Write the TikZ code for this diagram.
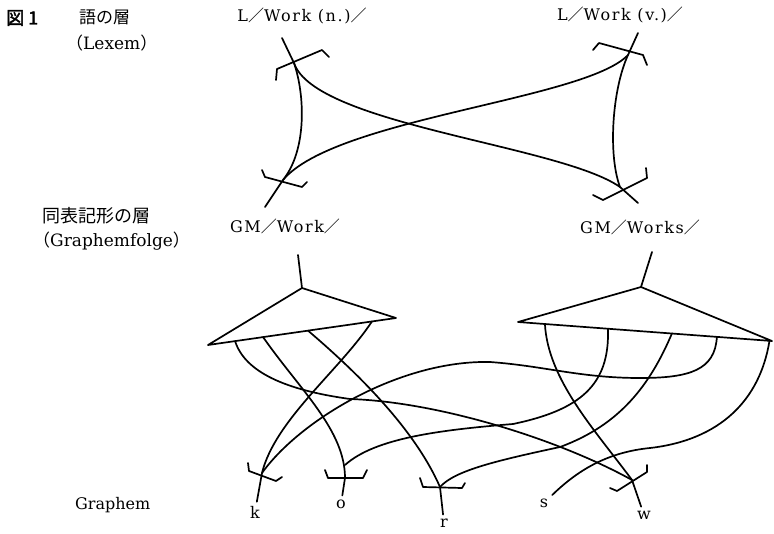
\documentclass[tikz,border=0pt]{standalone}
\usepackage{fontspec}
\setmainfont{DejaVu Serif}
\newfontfamily\unitfont{DejaVu Serif}[LetterSpace=10]
\newfontfamily\cjk{Noto Sans CJK JP}
\newfontfamily\cjkbold[FakeBold=2]{Noto Sans CJK JP}
\usepackage{tikz}
\usetikzlibrary{calc}

\begin{document}
\begin{tikzpicture}[
    x=1pt, y=-1pt,
    strand/.style={line width=1.7pt, line cap=round, line join=round},
    orbar/.style={strand},
    andnode/.style={strand},
    layer/.style={font=\fontsize{17}{20}\selectfont, anchor=west, inner sep=0pt},
    unit/.style={font=\unitfont\fontsize{16}{19}\selectfont, inner sep=1pt},
    grapheme/.style={font=\fontsize{16}{19}\selectfont, inner sep=4pt},
]
\useasboundingbox (0,0) rectangle (774,533);

% --- Layer names ---
\node[font=\cjkbold\fontsize{18}{20}\selectfont, anchor=west, inner sep=0pt] (fig) at (6,18) {図 1};
\node[layer] (lexname) at (79,17) {\cjk 語の層};
\node[layer] (lexname2) at (66,43) {{\cjk（}Lexem{\cjk）}};
\node[layer] (grname) at (42,216) {\cjk\fontsize{18}{20}\selectfont 同表記形の層};
\node[layer] (grname2) at (33,241) {{\cjk（}Graphemfolge{\cjk）}};
\node[layer, font=\fontsize{16}{19}\selectfont] (gphname) at (75,505) {Graphem};

% --- Lexemes and grapheme sequences ---
\node[unit] (lexN) at (302,16) {L{\cjk／}Work (n.){\cjk／}};
\node[unit] (lexV) at (620,15) {L{\cjk／}Work (v.){\cjk／}};
\node[unit] (gmW) at (285,226) {GM{\cjk／}Work{\cjk／}};
\node[unit] (gmWs) at (640,227) {GM{\cjk／}Works{\cjk／}};

% --- Graphemes ---
\node[grapheme] (k) at (255,512) {k};
\node[grapheme] (o) at (341,504) {o};
\node[grapheme] (r) at (444,523) {r};
\node[grapheme] (s) at (544,503) {s};
\node[grapheme] (w) at (644,515) {w};

% --- Junctions ---
\coordinate (lnfoot) at (282,38);
\coordinate (lvfoot) at (638,33);
\coordinate (TL) at (294,63);
\coordinate (TR) at (628,55);
\coordinate (BL) at (283,180);
\coordinate (BR) at (620,187);
\coordinate (gwtop) at (265,207);
\coordinate (gstop) at (638,203);
\coordinate (gwstem) at (298,255);
\coordinate (gsstem) at (652,252);
\coordinate (xk) at (262,473);
\coordinate (xo) at (345,478);
\coordinate (oj) at (345,465);
\coordinate (xr) at (440,487);
\coordinate (xw) at (632,480);

% --- AND nodes ---
\coordinate (gwA) at (302,288);
\coordinate (gwL) at (208,345);
\coordinate (gwR) at (396,318);
\coordinate (gsA) at (641,287);
\coordinate (gsL) at (518,322);
\coordinate (gsR) at (772,341);
\draw[andnode] (gwL) -- (gwA) -- (gwR) -- cycle;
\draw[andnode] (gsL) -- (gsA) -- (gsR) -- cycle;
\draw[strand] (gwstem) -- (gwA);
\draw[strand] (gsstem) -- (gsA);

\coordinate (w1) at ($(gwL)!0.144!(gwR)$);
\coordinate (o1) at ($(gwL)!0.293!(gwR)$);
\coordinate (r1) at ($(gwL)!0.532!(gwR)$);
\coordinate (k1) at ($(gwL)!0.872!(gwR)$);
\coordinate (w2) at ($(gsL)!0.106!(gsR)$);
\coordinate (o2) at ($(gsL)!0.354!(gsR)$);
\coordinate (r2) at ($(gsL)!0.606!(gsR)$);
\coordinate (k2) at ($(gsL)!0.783!(gsR)$);
\coordinate (s2) at ($(gsL)!0.99!(gsR)$);

% --- OR brackets ---
\draw[orbar] ([shift={(-18,17)}]TL) -- ++(1,-11) -- ++(45,-19) -- ++(7,7);
\draw[orbar] ([shift={(-35,-5)}]TR) -- ++(6,-7) -- ++(44,12) -- ++(4,10);
\draw[orbar] ([shift={(-21,-10)}]BL) -- ++(3,7) -- ++(37,10) -- ++(5,-5);
\draw[orbar] ([shift={(-27,8)}]BR) -- ++(10,5) -- ++(44,-22) -- ++(-1,-10);
\draw[orbar] ([shift={(-14,-10)}]xk) -- ++(1,8) -- ++(27,10) -- ++(6,-4);
\draw[orbar] ([shift={(-20,-8)}]xo) -- ++(3,8) -- ++(35,0) -- ++(4,-8);
\draw[orbar] ([shift={(-20,-9)}]xr) -- ++(3,9) -- ++(39,1) -- ++(3,-5);
\draw[orbar] ([shift={(-22,8)}]xw) -- ++(7,3) -- ++(30,-19) -- ++(0,-7);

% --- Lexem strands ---
\draw[strand] (lnfoot) -- (TL) .. controls (305,95) and (307,150) .. (BL) -- (gwtop);
\draw[strand] (lvfoot) -- (TR) .. controls (612,90) and (608,155) .. (BR) -- (gstop);
\draw[strand] (TL) .. controls (315,125) and (560,145) .. (BR);
\draw[strand] (BL) .. controls (335,118) and (585,100) .. (TR);

% --- Work strands ---
\draw[strand] (w1) .. controls (245,372) and (285,390) .. (350,399) .. controls (440,402) and (560,440) .. (xw);
\draw[strand] (o1) .. controls (300,390) and (345,430) .. (xo) -- (o);
\draw[strand] (r1) .. controls (360,375) and (415,430) .. (xr) -- (r);
\draw[strand] (k1) .. controls (340,370) and (275,420) .. (xk) -- (k);

% --- Works strands ---
\draw[strand] (w2) .. controls (548,380) and (595,430) .. (xw) -- (w);
\draw[strand] (o2) .. controls (610,385) and (580,410) .. (513,424) .. controls (440,430) and (375,438) .. (oj);
\draw[strand] (r2) .. controls (650,385) and (620,425) .. (560,447) .. controls (500,460) and (455,470) .. (xr);
\draw[strand] (k2) .. controls (715,370) and (690,378) .. (640,378) .. controls (580,378) and (545,366) .. (490,362) .. controls (400,360) and (300,420) .. (xk);
\draw[strand] (s2) .. controls (760,400) and (720,440) .. (650,448) .. controls (610,452) and (580,468) .. (s);

\end{tikzpicture}
\end{document}
